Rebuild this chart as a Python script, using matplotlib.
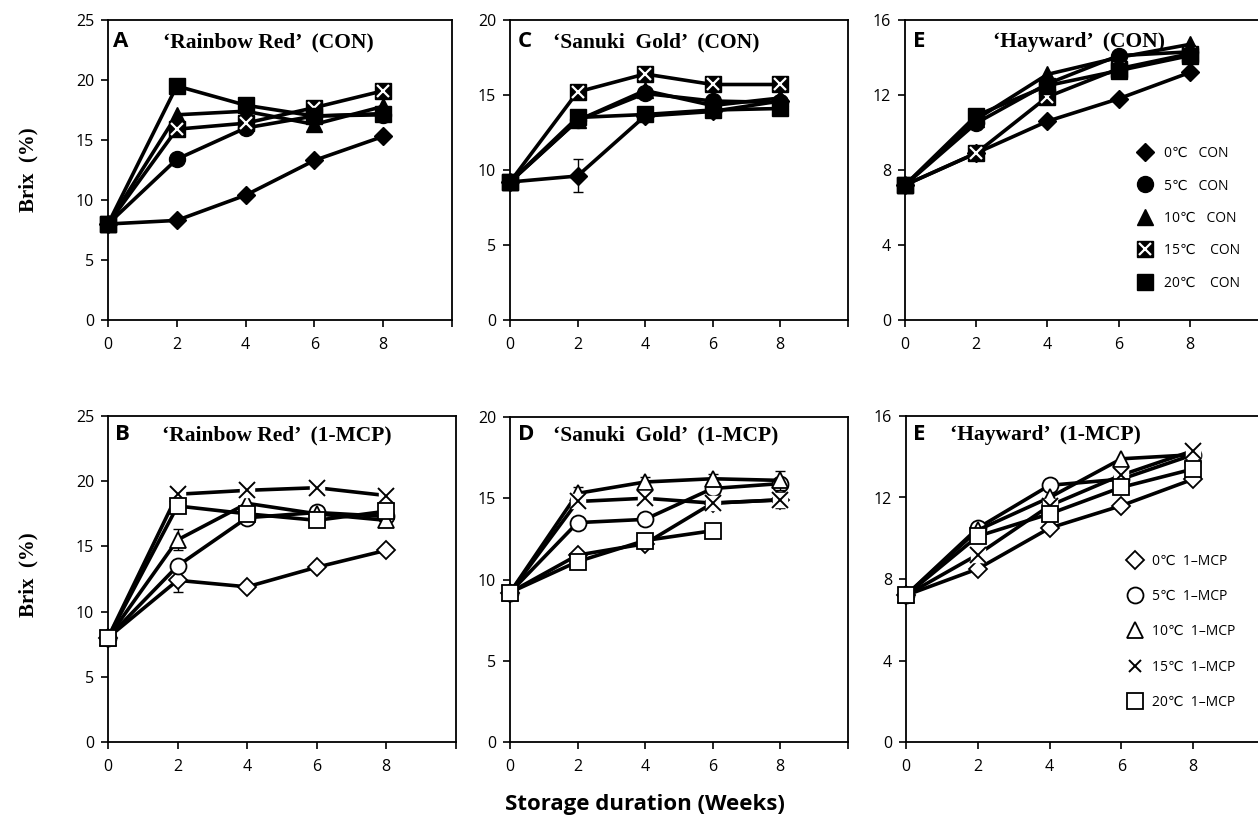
import matplotlib
matplotlib.use("Agg")
import matplotlib.pyplot as plt
import numpy as np
from matplotlib.lines import Line2D
from matplotlib.legend_handler import HandlerTuple

# ---------------- data ----------------
weeks = [0, 2, 4, 6, 8]
temps = ["0", "5", "10", "15", "20"]

# Brix (%) — order of series: 0, 5, 10, 15, 20 °C
rr_con = [[8.0, 8.3, 10.4, 13.3, 15.3],
          [8.0, 13.4, 16.0, 17.0, 17.1],
          [8.0, 17.1, 17.4, 16.3, 17.8],
          [8.0, 15.9, 16.4, 17.7, 19.1],
          [8.0, 19.5, 17.9, 17.0, 17.2]]
rr_mcp = [[8.0, 12.4, 11.9, 13.4, 14.7],
          [8.0, 13.5, 17.2, 17.6, 17.3],
          [8.0, 15.5, 18.3, 17.5, 17.0],
          [8.0, 19.0, 19.3, 19.5, 18.9],
          [8.0, 18.1, 17.5, 17.0, 17.7]]
sg_con = [[9.2, 9.6, 13.6, 13.9, 14.6],
          [9.2, 13.3, 15.1, 14.6, 14.5],
          [9.2, 13.3, 15.3, 14.3, 14.8],
          [9.2, 15.2, 16.4, 15.7, 15.7],
          [9.2, 13.5, 13.7, 14.0, 14.1]]
sg_mcp = [[9.2, 11.5, 12.2, 14.7, 14.9],
          [9.2, 13.5, 13.7, 15.6, 15.9],
          [9.2, 15.3, 16.0, 16.2, 16.1],
          [9.2, 14.8, 15.0, 14.7, 14.9],
          [9.2, 11.1, 12.4, 13.0, np.nan]]
hw_con = [[7.2, 8.9, 10.6, 11.8, 13.2],
          [7.2, 10.5, 12.6, 14.1, 14.3],
          [7.2, 10.7, 13.1, 14.0, 14.7],
          [7.2, 8.9, 11.9, 13.4, 14.2],
          [7.2, 10.9, 12.5, 13.3, 14.1]]
hw_mcp = [[7.2, 8.5, 10.5, 11.6, 12.9],
          [7.2, 10.5, 12.6, 12.9, 14.1],
          [7.2, 10.4, 12.0, 13.9, 14.1],
          [7.2, 9.2, 11.6, 13.1, 14.3],
          [7.2, 10.1, 11.2, 12.5, 13.4]]

# standard errors (only those visible in the figure)
rr_con_err = [[0]*5]*5
rr_mcp_err = [[0, 0.9, 0, 0, 0], [0]*5, [0, 0.8, 0, 0, 0], [0]*5, [0]*5]
sg_con_err = [[0, 1.1, 0, 0, 0], [0]*5, [0]*5, [0]*5, [0]*5]
sg_mcp_err = [[0]*5, [0]*5, [0, 0.4, 0.3, 0.3, 0.6], [0, 0, 0, 0, 0.5], [0]*5]
hw_con_err = [[0]*5]*5
hw_mcp_err = [[0]*5]*5

panel_letters = ["A", "B", "C", "D", "E", "E"]
panel_titles = ["\u2018Rainbow Red\u2019  (CON)", "\u2018Rainbow Red\u2019  (1-MCP)",
                "\u2018Sanuki  Gold\u2019  (CON)", "\u2018Sanuki  Gold\u2019  (1-MCP)",
                "\u2018Hayward\u2019  (CON)", "\u2018Hayward\u2019  (1-MCP)"]
y_max = [25, 25, 20, 20, 16, 16]
y_step = [5, 5, 5, 5, 4, 4]
x_ticks = [0, 2, 4, 6, 8, 10]
x_ticklabels = ["0", "2", "4", "6", "8", ""]
con_labels = ["0\u2103   CON", "5\u2103   CON", "10\u2103   CON", "15\u2103    CON", "20\u2103    CON"]
mcp_labels = ["0\u2103  1\u2013MCP", "5\u2103  1\u2013MCP", "10\u2103  1\u2013MCP",
              "15\u2103  1\u2013MCP", "20\u2103  1\u2013MCP"]
y_label = "Brix  (%)"
x_label = "Storage duration (Weeks)"

# ---------------- layout ----------------
W, H = 1258, 822
fig = plt.figure(figsize=(W / 100, H / 100), dpi=100)
SANS = ["Open Sans", "DejaVu Sans"]
SERIF = ["Liberation Serif", "DejaVu Serif"]

# (left, top, right, bottom) in pixels
boxes = [(108, 20, 452, 320), (108, 416, 455.7, 742),
         (510, 20, 847.5, 320), (510, 417, 847.5, 742),
         (905, 20, 1261, 320), (906, 416, 1265, 742)]
letter_pos = [(113, 47), (115, 440), (518, 47), (518, 440), (913, 47), (913, 440)]
title_pos = [(163, 47), (162, 440), (553, 47), (553, 440), (993, 47), (950, 440)]

datasets = [(rr_con, rr_con_err, True), (rr_mcp, rr_mcp_err, False),
            (sg_con, sg_con_err, True), (sg_mcp, sg_mcp_err, False),
            (hw_con, hw_con_err, True), (hw_mcp, hw_mcp_err, False)]

MS = {"D": 9.5, "o": 11.5, "^": 11.5, "s": 11}
LW = 2.6


def draw_series(ax, x, y, k, filled):
    if k == 0:
        mk, ms = "D", MS["D"]
    elif k == 1:
        mk, ms = "o", MS["o"]
    elif k == 2:
        mk, ms = "^", MS["^"]
    else:
        mk, ms = "s", MS["s"]
    z = 3 + k
    if filled:
        ax.plot(x, y, color="black", lw=LW, marker=mk, ms=ms, mfc="black",
                mec="black", zorder=z, clip_on=False)
        if k == 3:
            ax.plot(x, y, ls="none", marker="x", ms=8.5, mec="white", mew=1.6,
                    zorder=z + 0.5, clip_on=False)
    else:
        if k == 3:
            ax.plot(x, y, color="black", lw=LW, zorder=z, clip_on=False)
            ax.plot(x, y, ls="none", marker="s", ms=10.5, mfc="white", mec="white",
                    zorder=z + 0.2, clip_on=False)
            ax.plot(x, y, ls="none", marker="x", ms=11.5, mec="black", mew=1.4,
                    zorder=z + 0.5, clip_on=False)
        else:
            ax.plot(x, y, color="black", lw=LW, marker=mk, ms=ms, mfc="white",
                    mec="black", mew=1.3, zorder=z, clip_on=False)


axes = []
for i, (l, t, r, b) in enumerate(boxes):
    ax = fig.add_axes([l / W, 1 - b / H, (r - l) / W, (b - t) / H])
    axes.append(ax)
    data, errs, filled = datasets[i]
    for k in range(5):
        yv = np.array(data[k], dtype=float)
        ev = np.array(errs[k], dtype=float)
        if np.any(ev > 0):
            m = ev > 0
            ax.errorbar(np.array(weeks)[m], yv[m], yerr=ev[m], fmt="none",
                        ecolor="black", elinewidth=1.0, capsize=3.5, capthick=1.0,
                        zorder=2.5 + k)
        draw_series(ax, weeks, yv, k, filled)
    ax.set_xlim(0, 10)
    ax.set_ylim(0, y_max[i])
    ax.set_yticks(np.arange(0, y_max[i] + 0.1, y_step[i]))
    ax.set_xticks(x_ticks)
    ax.set_xticklabels(x_ticklabels)
    for sp in ax.spines.values():
        sp.set_linewidth(1.3)
        sp.set_color("black")
    ax.tick_params(direction="out", length=5, width=1.2, labelsize=11.5, pad=5)
    ax.tick_params(axis="x", pad=7)
    for lab in ax.get_xticklabels() + ax.get_yticklabels():
        lab.set_family(SANS)
    lx, ly = letter_pos[i]
    fig.text(lx / W, 1 - ly / H, panel_letters[i], family=SANS, fontweight="bold",
             fontsize=16, va="baseline", ha="left")
    tx, ty = title_pos[i]
    fig.text(tx / W, 1 - ty / H, panel_titles[i], family=SERIF, fontweight="bold",
             fontsize=15.5, va="baseline", ha="left")

# legends
def make_handles(filled):
    hs = []
    if filled:
        hs.append(Line2D([], [], ls="none", marker="D", ms=MS["D"], mfc="black", mec="black"))
        hs.append(Line2D([], [], ls="none", marker="o", ms=MS["o"], mfc="black", mec="black"))
        hs.append(Line2D([], [], ls="none", marker="^", ms=MS["^"], mfc="black", mec="black"))
        hs.append((Line2D([], [], ls="none", marker="s", ms=MS["s"], mfc="black", mec="black"),
                   Line2D([], [], ls="none", marker="x", ms=8.5, mec="white", mew=1.6)))
        hs.append(Line2D([], [], ls="none", marker="s", ms=MS["s"], mfc="black", mec="black"))
    else:
        hs.append(Line2D([], [], ls="none", marker="D", ms=MS["D"], mfc="white", mec="black", mew=1.3))
        hs.append(Line2D([], [], ls="none", marker="o", ms=MS["o"], mfc="white", mec="black", mew=1.3))
        hs.append(Line2D([], [], ls="none", marker="^", ms=MS["^"], mfc="white", mec="black", mew=1.3))
        hs.append(Line2D([], [], ls="none", marker="x", ms=9, mec="black", mew=1.4))
        hs.append(Line2D([], [], ls="none", marker="s", ms=MS["s"], mfc="white", mec="black", mew=1.3))
    return hs

leg1 = fig.legend(make_handles(True), con_labels, loc="upper left",
                  bbox_to_anchor=(1136 / W, 1 - 146 / H), frameon=False,
                  prop={"family": SANS, "size": 10}, labelspacing=1.25,
                  handlelength=1.3, handletextpad=0.7, borderpad=0, borderaxespad=0,
                  handler_map={tuple: HandlerTuple(ndivide=1, pad=0)})
leg2 = fig.legend(make_handles(False), mcp_labels, loc="upper left",
                  bbox_to_anchor=(1126 / W, 1 - 554 / H), frameon=False,
                  prop={"family": SANS, "size": 10}, labelspacing=1.45,
                  handlelength=1.3, handletextpad=0.6, borderpad=0, borderaxespad=0,
                  handler_map={tuple: HandlerTuple(ndivide=1, pad=0)})

# axis labels
fig.text(28 / W, 1 - 170 / H, y_label, family=SERIF, fontweight="bold", fontsize=15,
         rotation=90, ha="center", va="center")
fig.text(28 / W, 1 - 575 / H, y_label, family=SERIF, fontweight="bold", fontsize=15,
         rotation=90, ha="center", va="center")
fig.text(645 / W, 1 - 804 / H, x_label, family=SANS, fontweight="bold", fontsize=16,
         ha="center", va="center")

fig.savefig("out.png", dpi=100)
